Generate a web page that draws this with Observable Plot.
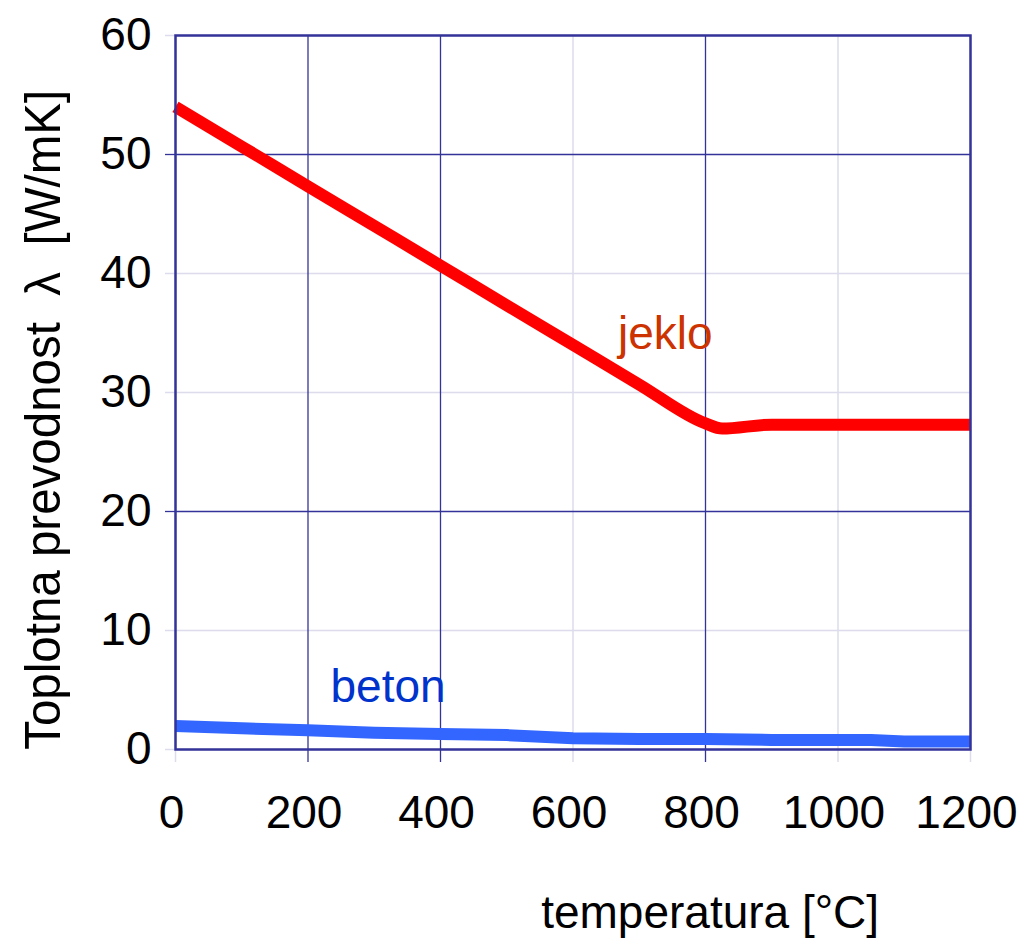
<!DOCTYPE html>
<html>
<head>
<meta charset="utf-8">
<script src="https://cdn.jsdelivr.net/npm/d3@7"></script>
<script src="https://cdn.jsdelivr.net/npm/@observablehq/plot@0.6"></script>
<style>
  body { margin: 0; background: #fff; }
  svg { font-family: Arial, "Liberation Sans", sans-serif; }
</style>
</head>
<body>
<div id="chart"></div>
<script>
// Data
const steelTemp = [0, 100, 200, 300, 400, 500, 600, 700, 800, 825, 900, 1000, 1100, 1200];
const steelLambda = [54.0, 50.67, 47.33, 44.0, 40.67, 37.33, 34.0, 30.67, 27.4, 26.97, 27.3, 27.3, 27.3, 27.3];
const concreteTemp = [0, 100, 200, 300, 400, 500, 600, 700, 800, 900, 1000, 1050, 1100, 1200];
const concreteLambda = [1.97, 1.78, 1.62, 1.40, 1.30, 1.21, 0.95, 0.88, 0.88, 0.80, 0.80, 0.80, 0.67, 0.67];

const xTicks = [0, 200, 400, 600, 800, 1000, 1200];
const yTicks = [0, 10, 20, 30, 40, 50, 60];
const xGridDark = [200, 400, 800];
const xGridLight = [0, 600, 1000, 1200];
const yGridDark = [20, 50];
const yGridLight = [0, 10, 30, 40, 60];

const seriesLabels = [
  {name: "jeklo", t: 668, v: 34.9, color: "#cc3300"},
  {name: "beton", t: 234, v: 5.2, color: "#0033cc"}
];
const xTitle = "temperatura [°C]";
const yTitle = "Toplotna prevodnost  λ  [W/mK]";

const steel = steelTemp.map((t, i) => ({t, v: steelLambda[i]}));
const concrete = concreteTemp.map((t, i) => ({t, v: concreteLambda[i]}));

const navy = "#333399";
const light = "#dcdcec";

const chart = Plot.plot({
  width: 1027,
  height: 952,
  marginLeft: 175,
  marginRight: 57,
  marginTop: 35,
  marginBottom: 203,
  style: {fontFamily: "Arial, 'Liberation Sans', sans-serif", background: "#fff"},
  x: {domain: [0, 1200]},
  y: {domain: [0, 60]},
  marks: [
    Plot.ruleX(xGridLight, {x: d => d, stroke: light, strokeWidth: 1.5}),
    Plot.ruleY(yGridLight, {y: d => d, stroke: light, strokeWidth: 1.5}),
    Plot.ruleX(xGridDark, {x: d => d, stroke: navy, strokeWidth: 1.3}),
    Plot.ruleY(yGridDark, {y: d => d, stroke: navy, strokeWidth: 1.3}),
    Plot.axisX(xGridLight, {tickSize: 13, stroke: light, strokeWidth: 1.5, tickFormat: () => "", label: null}),
    Plot.axisX(xGridDark, {tickSize: 13, stroke: navy, strokeWidth: 1.3, tickFormat: () => "", label: null}),
    Plot.axisY(yGridLight, {tickSize: 10, stroke: light, strokeWidth: 1.5, tickFormat: () => "", label: null}),
    Plot.axisY(yGridDark, {tickSize: 10, stroke: navy, strokeWidth: 1.3, tickFormat: () => "", label: null}),
    Plot.axisX(xTicks, {tickSize: 0, tickPadding: 46, fontSize: 46, fill: "black", label: null, dx: -4, tickFormat: d => String(d)}),
    Plot.axisY(yTicks, {tickSize: 0, tickPadding: 24, fontSize: 46, fill: "black", label: null, tickFormat: d => String(d)}),
    Plot.line(concrete, {x: "t", y: "v", stroke: "#3366ff", strokeWidth: 12, strokeLinecap: "butt", strokeLinejoin: "round"}),
    Plot.line(steel, {x: "t", y: "v", stroke: "#ff0000", strokeWidth: 12, strokeLinecap: "butt", strokeLinejoin: "round", curve: "monotone-x"}),
    Plot.frame({stroke: navy, strokeWidth: 2.5}),
    Plot.text(seriesLabels, {x: "t", y: "v", text: "name", fill: "color", fontSize: 46, textAnchor: "start"}),
    Plot.text([xTitle], {x: [807], frameAnchor: "bottom", dy: 178, text: d => d, fontSize: 46, fill: "black", textAnchor: "middle"}),
    Plot.text([yTitle], {y: [27.7], frameAnchor: "left", dx: -132, rotate: -90, text: d => d, fontSize: 50, fill: "black", textAnchor: "middle", className: "ytitle"})
  ]
});
document.getElementById("chart").appendChild(chart);
d3.select(chart).selectAll(".ytitle text")
  .attr("textLength", 660)
  .attr("lengthAdjust", "spacingAndGlyphs");
</script>
</body>
</html>
